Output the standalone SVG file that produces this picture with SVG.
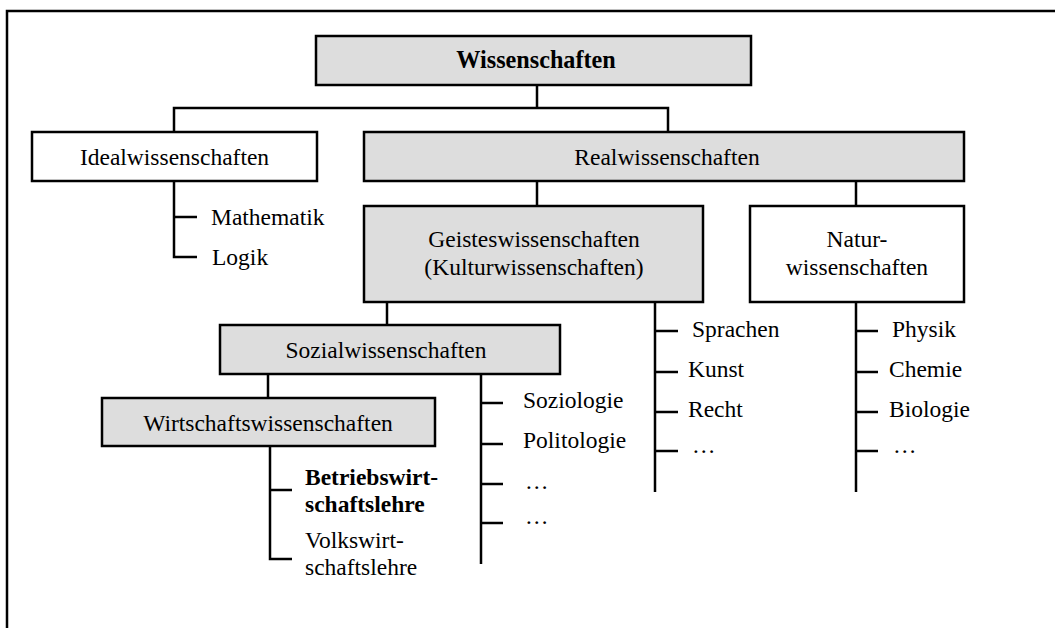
<svg xmlns="http://www.w3.org/2000/svg" width="1055" height="628" viewBox="0 0 1055 628">
<style>
.box{stroke:#000;stroke-width:2.5;}
.g{fill:#dddddd;}
.w{fill:#ffffff;}
.t{font-family:"Liberation Serif","Times New Roman",serif;font-size:23.5px;fill:#000;}
.c{text-anchor:middle;}
.b{font-weight:bold;}
.big{font-size:24.2px;}
.ln{stroke:#000;stroke-width:2.5;fill:none;}
</style>
<rect x="0" y="0" width="1055" height="628" fill="#ffffff"/>
<path d="M7,628 V11 H1060" class="ln" stroke-width="2"/>
<g id="connectors">
<path class="ln" d="M537,85 V108 M174,132 V108 H668 V132"/>
<path class="ln" d="M174,181 V257 H197 M174,217 H197"/>
<path class="ln" d="M537,181 V206 M856,181 V206"/>
<path class="ln" d="M387,302 V325"/>
<path class="ln" d="M655,302 V492 M655,331 H678 M655,372 H678 M655,412 H678 M655,451 H678"/>
<path class="ln" d="M856,302 V492 M856,331 H878 M856,372 H878 M856,412 H878 M856,451 H878"/>
<path class="ln" d="M268,374 V398"/>
<path class="ln" d="M481,374 V564 M481,403 H503 M481,444 H503 M481,484 H503 M481,523 H503"/>
<path class="ln" d="M270,446 V559 H292 M270,490 H292"/>
</g>
<g id="wissenschaften"><rect class="box g" x="316" y="36" width="435" height="49"/><text class="t c b big" x="536" y="68">Wissenschaften</text></g>
<g id="idealwissenschaften"><rect class="box w" x="32" y="132" width="285" height="49"/><text class="t c" x="174.5" y="165">Idealwissenschaften</text></g>
<g id="realwissenschaften"><rect class="box g" x="364" y="132" width="600" height="49"/><text class="t c" x="667" y="165">Realwissenschaften</text></g>
<g id="mathematik"><text class="t" x="211" y="225">Mathematik</text></g>
<g id="logik"><text class="t" x="212" y="265">Logik</text></g>
<g id="geisteswissenschaften"><rect class="box g" x="364" y="206" width="339" height="96"/><text class="t c" x="534" y="247">Geisteswissenschaften</text><text class="t c" x="534" y="275">(Kulturwissenschaften)</text></g>
<g id="naturwissenschaften"><rect class="box w" x="750" y="206" width="214" height="96"/><text class="t c" x="857" y="247">Natur-</text><text class="t c" x="857" y="275">wissenschaften</text></g>
<g id="sozialwissenschaften"><rect class="box g" x="220" y="325" width="340" height="49"/><text class="t c" x="386" y="358">Sozialwissenschaften</text></g>
<g id="wirtschaftswissenschaften"><rect class="box g" x="102" y="398" width="333" height="48"/><text class="t c" x="268" y="431">Wirtschaftswissenschaften</text></g>
<g id="sprachen"><text class="t" x="692" y="337">Sprachen</text></g>
<g id="kunst"><text class="t" x="688" y="377">Kunst</text></g>
<g id="recht"><text class="t" x="688" y="417">Recht</text></g>
<g id="g-etc"><text class="t" x="692" y="453">…</text></g>
<g id="physik"><text class="t" x="892" y="337">Physik</text></g>
<g id="chemie"><text class="t" x="889" y="377">Chemie</text></g>
<g id="biologie"><text class="t" x="889" y="417">Biologie</text></g>
<g id="n-etc"><text class="t" x="893" y="453">…</text></g>
<g id="soziologie"><text class="t" x="523" y="408">Soziologie</text></g>
<g id="politologie"><text class="t" x="523" y="448">Politologie</text></g>
<g id="s-etc1"><text class="t" x="525" y="489">…</text></g>
<g id="s-etc2"><text class="t" x="525" y="524">…</text></g>
<g id="bwl"><text class="t b" x="305" y="485">Betriebswirt-</text><text class="t b" x="305" y="512">schaftslehre</text></g>
<g id="vwl"><text class="t" x="305" y="548">Volkswirt-</text><text class="t" x="305" y="575">schaftslehre</text></g>
</svg>
